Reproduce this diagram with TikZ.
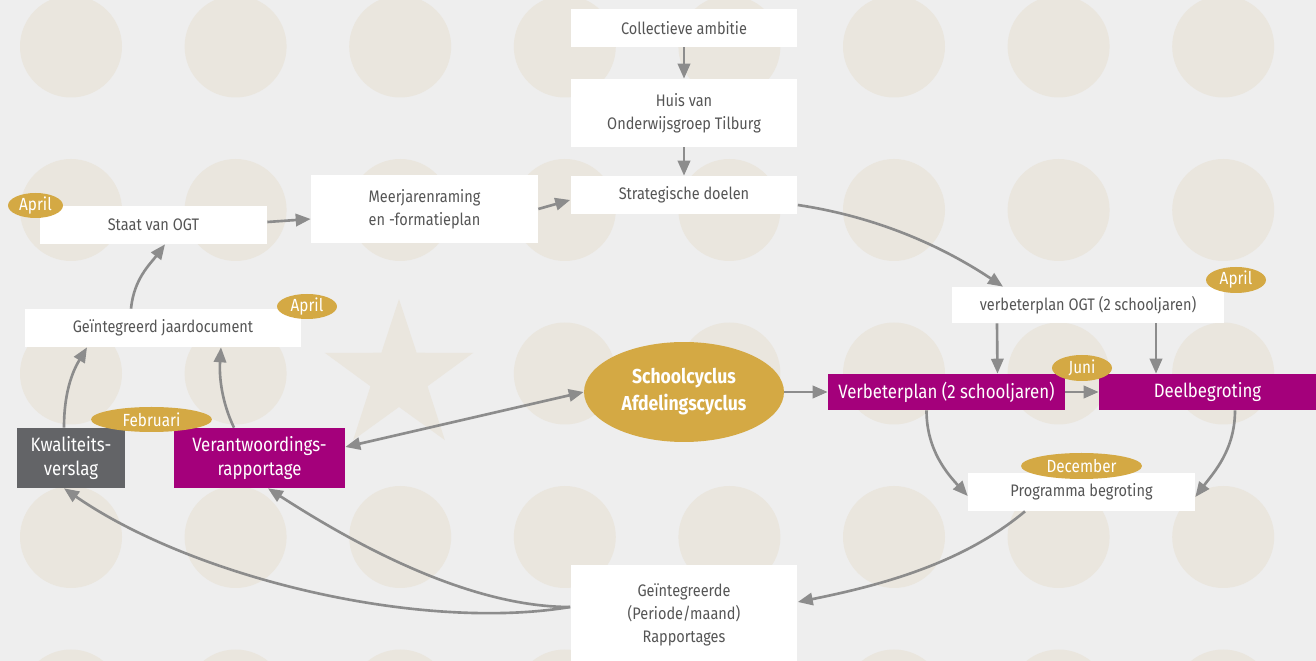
\documentclass[tikz,border=0pt]{standalone}
\usepackage{fontspec}
\setmainfont{Fira Sans}[FakeStretch=0.87]
\usetikzlibrary{shapes.geometric,arrows.meta,calc}

\definecolor{bgcol}{HTML}{EEEEEE}
\definecolor{dotcol}{HTML}{EAE6DE}
\definecolor{goldcol}{HTML}{D4A944}
\definecolor{magcol}{HTML}{A4007B}
\definecolor{kwalcol}{HTML}{636467}
\definecolor{arrcol}{HTML}{8C8C8C}
\definecolor{txtcol}{HTML}{555555}

\begin{document}
\begin{tikzpicture}[%
      x=0.02cm, y=-0.02cm,
      box/.style={fill=white, text=txtcol, align=center, inner sep=0pt,
        font=\fontsize{9.5}{13.3}\selectfont, minimum width=4.54cm, minimum height=0.76cm},
      colbox/.style={text=white, align=center, inner sep=0pt,
        font=\fontsize{11}{13.3}\selectfont, minimum height=0.72cm},
      tag/.style={ellipse, fill=goldcol, text=white, inner sep=0pt,
        font=\fontsize{10}{12}\selectfont, minimum height=0.5cm},
      arr/.style={arrcol, line width=1.5pt, -{Triangle[length=8.5pt,width=7pt]}},
      ]
      \clip (0,0) rectangle (1316,661);
      \fill[bgcol] (0,0) rectangle (1316,661);
      \foreach \i in {0,...,7}
        \foreach \j in {0,...,4}
          {\ifnum\i\j=22 \else \fill[dotcol] (71+164.6*\i,46.5+163.5*\j) circle (51); \fi}
      \node[star, star points=5, star point ratio=2.6, minimum size=3.12cm,
        inner sep=0pt, fill=dotcol] at (399,377) {};

      \node[box] (coll) at (684,28) {Collectieve ambitie};
      \node[box, minimum height=1.36cm] (huis) at (684,113) {Huis van\\Onderwijsgroep Tilburg};
      \node[box] (strat) at (684,195) {Strategische doelen};
      \node[box, minimum height=1.36cm] (meer) at (424.5,209) {Meerjarenraming\\en -formatieplan};
      \node[box] (staat) at (153.5,225) {Staat van OGT};
      \node[box, minimum width=5.52cm] (geint) at (163,328) {Geïntegreerd jaardocument};
      \node[colbox, fill=kwalcol, minimum width=2.16cm, minimum height=1.2cm] (kwal) at (71,458) {Kwaliteits-\\verslag};
      \node[colbox, fill=magcol, minimum width=3.42cm, minimum height=1.2cm] (verantw) at (259.5,458) {Verantwoordings-\\rapportage};
      \node[ellipse, fill=goldcol, text=white, minimum width=4cm, minimum height=2cm, inner sep=0pt,
        align=center, font=\fontsize{11.5}{15.4}\selectfont\bfseries] (school) at (684,392) {Schoolcyclus\\Afdelingscyclus};
      \node[colbox, fill=magcol, minimum width=4.74cm] (verb) at (946.5,392) {Verbeterplan (2 schooljaren)};
      \node[colbox, fill=magcol, minimum width=4.34cm] (deel) at (1207.5,392) {Deelbegroting};
      \node[box, minimum width=5.44cm, minimum height=0.72cm] (ogt) at (1088,305) {verbeterplan OGT (2 schooljaren)};
      \node[box] (prog) at (1081.5,492) {Programma begroting};
      \node[box, minimum height=2cm] (rapp) at (684,615) {Geïntegreerde\\(Periode/maand)\\Rapportages};

      \draw[arr] (coll) -- (huis);
      \draw[arr] (huis) -- (strat);
      \draw[arr] (meer.east) -- ($(strat.west)+(0,5)$);
      \draw[arr] ($(staat.east)+(0,-3)$) -- ($(meer.west)+(0,10)$);
      \draw[arr] ($(strat.east)+(0,10)$) .. controls +(80,12) and +(-60,-40) .. ($(ogt.north)+(-85,0)$);
      \draw[arr] ($(ogt.south)+(-91,0)$) -- ($(verb.north)+(51,0)$);
      \draw[arr] ($(ogt.south)+(68,0)$) -- ($(deel.north)+(-51.5,0)$);
      \draw[arr] (verb) -- (deel);
      \draw[arr] (school) -- (verb);
      \draw[arrcol, line width=1.5pt, {Triangle[length=8.5pt,width=7pt]}-{Triangle[length=8.5pt,width=7pt]}]
        (school.west) -- ($(verantw.east)+(0,-11)$);
      \draw[arr] ($(verb.south)+(-20,0)$) .. controls +(0,40) and +(-20,-22) .. ($(prog.west)+(0,4)$);
      \draw[arr] ($(deel.south)+(27.5,0)$) .. controls +(0,40) and +(18,-24) .. ($(prog.east)+(0,5)$);
      \draw[arr] ($(prog.south)+(-56.5,0)$) .. controls +(-60,50) and +(90,-18) .. ($(rapp.east)+(0,-13)$);
      \draw[arr] ($(rapp.west)+(0,-8)$) .. controls +(-110,0) and +(70,45) .. ($(verantw.south)+(8.5,0)$);
      \draw[arr] ($(rapp.west)+(0,-8)$) .. controls +(-150,25) and +(130,90) .. ($(kwal.south)+(-7,0)$);
      \draw[arr] ($(kwal.north)+(-7,0)$) .. controls +(0,-40) and +(-12,20) .. ($(geint.south)+(-76,0)$);
      \draw[arr] ($(verantw.north)+(-25.5,0)$) .. controls +(-12,-25) and +(-2,30) .. ($(geint.south)+(58,0)$);
      \draw[arr] ($(geint.north)+(-32,0)$) .. controls +(3,-30) and +(-15,20) .. ($(staat.south)+(11.5,0)$);

      \node[tag, minimum width=1.1cm] (aprilstaat) at (35.5,205.5) {April};
      \node[tag, minimum width=1.2cm] (aprilgeint) at (307,306.5) {April};
      \node[tag, minimum width=2.42cm] (febr) at (151.5,419.5) {Februari};
      \node[tag, minimum width=1.2cm, minimum height=0.52cm] (aprilogt) at (1236,280) {April};
      \node[tag, minimum width=1.2cm, minimum height=0.52cm] (juni) at (1082,368) {Juni};
      \node[tag, minimum width=2.42cm, minimum height=0.52cm] (dec) at (1081.5,466) {December};
      \end{tikzpicture}
\end{document}
